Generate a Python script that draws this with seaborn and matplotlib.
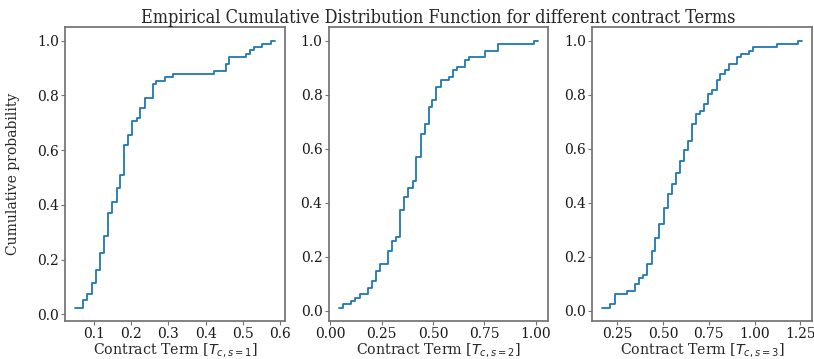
import matplotlib
matplotlib.use("Agg")
import matplotlib.pyplot as plt
from matplotlib.ticker import MultipleLocator
import seaborn as sns

# ECDF steps: x positions and cumulative probabilities
term_1_x = [0.050, 0.072, 0.083, 0.094, 0.105, 0.116, 0.128, 0.138, 0.150, 0.161,
            0.170, 0.181, 0.192, 0.203, 0.215, 0.225, 0.237, 0.258, 0.268, 0.290,
            0.312, 0.421, 0.453, 0.463, 0.507, 0.519, 0.529, 0.551, 0.574, 0.585]
term_1_p = [0.025, 0.052, 0.076, 0.114, 0.162, 0.224, 0.286, 0.372, 0.409, 0.460,
            0.509, 0.618, 0.655, 0.705, 0.718, 0.755, 0.792, 0.842, 0.854, 0.866,
            0.878, 0.890, 0.916, 0.940, 0.952, 0.964, 0.976, 0.988, 1.000, 1.000]

term_2_x = [0.040, 0.061, 0.102, 0.121, 0.142, 0.182, 0.202, 0.223, 0.242, 0.279,
            0.298, 0.319, 0.339, 0.360, 0.379, 0.400, 0.419, 0.439, 0.460, 0.479,
            0.497, 0.516, 0.537, 0.576, 0.597, 0.616, 0.656, 0.677, 0.755, 0.815,
            0.992, 1.013]
term_2_p = [0.012, 0.024, 0.037, 0.049, 0.062, 0.085, 0.110, 0.146, 0.173, 0.222,
            0.259, 0.272, 0.372, 0.421, 0.456, 0.482, 0.570, 0.655, 0.691, 0.754,
            0.780, 0.828, 0.854, 0.866, 0.890, 0.902, 0.927, 0.939, 0.963, 0.988,
            1.000, 1.000]

term_3_x = [0.168, 0.212, 0.236, 0.303, 0.348, 0.371, 0.393, 0.415, 0.437, 0.458,
            0.480, 0.504, 0.525, 0.547, 0.571, 0.592, 0.614, 0.636, 0.658, 0.679,
            0.703, 0.725, 0.746, 0.770, 0.792, 0.813, 0.837, 0.859, 0.902, 0.924,
            0.969, 0.991, 1.125, 1.237, 1.259]
term_3_p = [0.012, 0.024, 0.061, 0.073, 0.098, 0.122, 0.134, 0.173, 0.222, 0.271,
            0.321, 0.382, 0.433, 0.470, 0.509, 0.555, 0.594, 0.630, 0.691, 0.728,
            0.741, 0.766, 0.802, 0.817, 0.854, 0.878, 0.890, 0.915, 0.939, 0.951,
            0.963, 0.976, 0.988, 1.000, 1.000]

terms = [(term_1_x, term_1_p, 1, 0.1), (term_2_x, term_2_p, 2, 0.25), (term_3_x, term_3_p, 3, 0.25)]

sns.set_theme(style="ticks")
plt.rcParams["font.family"] = ["DejaVu Serif"]
plt.rcParams["axes.edgecolor"] = "0.45"
plt.rcParams["xtick.color"] = "0.45"
plt.rcParams["ytick.color"] = "0.45"
plt.rcParams["xtick.labelcolor"] = "0.1"
plt.rcParams["ytick.labelcolor"] = "0.1"

fig, axes = plt.subplots(1, 3, figsize=(8.14, 3.59), dpi=100)
fig.subplots_adjust(left=0.080, right=0.9975, top=0.924, bottom=0.106, wspace=0.2)

for ax, (xs, ps, idx, step) in zip(axes, terms):
    sns.lineplot(x=xs, y=ps, drawstyle="steps-post", color="#1f77b4", linewidth=1.3, ax=ax)
    ax.xaxis.set_major_locator(MultipleLocator(step))
    ax.set_xlabel(f"Contract Term [$T_{{c,s={idx}}}$]", fontsize=10.2, labelpad=0)
    ax.tick_params(labelsize=10, length=3, width=0.8, pad=1.5)
    for side in ["top", "right"]:
        ax.spines[side].set_visible(True)

axes[0].set_ylabel("Cumulative probability", fontsize=10, labelpad=12)
axes[1].set_title("Empirical Cumulative Distribution Function for different contract Terms",
                  fontsize=13, fontstretch="condensed", pad=3)

plt.savefig("out.png", dpi=100)
plt.close()
